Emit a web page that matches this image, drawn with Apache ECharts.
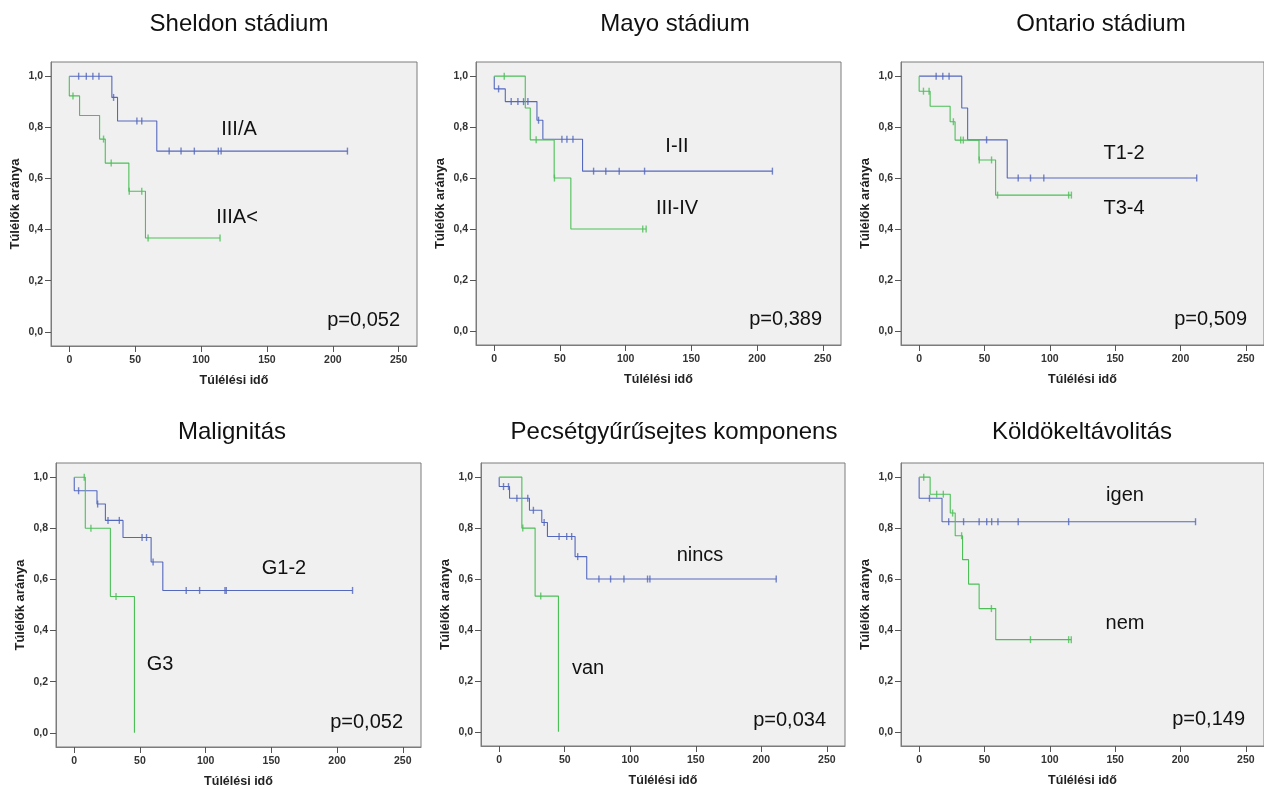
<!DOCTYPE html>
<html>
<head>
<meta charset="utf-8">
<script src="https://cdn.jsdelivr.net/npm/echarts@6/dist/echarts.min.js"></script>
<style>
  html, body { margin: 0; padding: 0; background: #fff; }
  #chart { width: 1264px; height: 789px; }
</style>
</head>
<body>
<div id="chart"></div>
<script>
// tick labels
const xTicks = [0, 50, 100, 150, 200, 250];
const yTicks = [0, 0.2, 0.4, 0.6, 0.8, 1.0];

const panelTitles = ["Sheldon stádium", "Mayo stádium", "Ontario stádium", "Malignitás", "Pecsétgyűrűsejtes komponens", "Köldökeltávolitás"];
const pValues = ["p=0,052", "p=0,389", "p=0,509", "p=0,052", "p=0,034", "p=0,149"];
const blueLabels = ["III/A", "I-II", "T1-2", "G1-2", "nincs", "igen"];
const greenLabels = ["IIIA<", "III-IV", "T3-4", "G3", "van", "nem"];

// Sheldon stádium
const sheldonBlueEvents = [32.3, 36.6, 66.4];
const sheldonBlueSurv = [0.917, 0.825, 0.707];
const sheldonBlueCensored = [7.1, 12.9, 17.9, 22.5, 33.6, 51.3, 55, 75.8, 84.8, 94.9, 113.1, 115.2, 211.1];
const sheldonGreenEvents = [0, 7.8, 23, 27.3, 45.2, 57.8];
const sheldonGreenSurv = [0.923, 0.846, 0.754, 0.66, 0.55, 0.367];
const sheldonGreenCensored = [2.8, 26, 31.8, 45.5, 55, 59.8, 114.4];

// Mayo stádium
const mayoBlueEvents = [0, 8.4, 32.5, 37, 67.2];
const mayoBlueSurv = [0.95, 0.9, 0.827, 0.752, 0.627];
const mayoBlueCensored = [3.3, 12.9, 18, 22.3, 25.6, 33.7, 51.5, 55.3, 59.9, 75.6, 84.9, 95.1, 114.4, 211.7];
const mayoGreenEvents = [23.6, 27.4, 45.6, 58.3];
const mayoGreenSurv = [0.875, 0.75, 0.6, 0.4];
const mayoGreenCensored = [7.6, 31.9, 45.8, 113, 115.6];

// Ontario stádium
const ontarioBlueEvents = [32.6, 37.1, 67.4];
const ontarioBlueSurv = [0.875, 0.75, 0.6];
const ontarioBlueCensored = [13, 18.1, 22.9, 51.6, 75.8, 85.2, 95.4, 212.4];
const ontarioGreenEvents = [0, 8.4, 23.7, 27.5, 45.8, 58.5];
const ontarioGreenSurv = [0.941, 0.882, 0.821, 0.749, 0.671, 0.533];
const ontarioGreenCensored = [3.3, 7.6, 26.2, 31.8, 33.8, 46, 55.4, 60, 114.4, 116.5];

// Malignitás
const malignBlueEvents = [0, 17.3, 23.7, 37.1, 58.5, 67.4];
const malignBlueSurv = [0.947, 0.895, 0.831, 0.764, 0.668, 0.557];
const malignBlueCensored = [3.3, 17.8, 25.7, 34.3, 51.6, 55, 60, 85.2, 95.4, 114.7, 115.7, 211.8];
const malignGreenEvents = [8.4, 27.5, 45.8];
const malignGreenSurv = [0.8, 0.533, 0];
const malignGreenCensored = [7.6, 12.7, 31.8];

// Pecsétgyűrűsejtes komponens
const pecsetBlueEvents = [0, 7.9, 23.1, 32.5, 36.8, 57.9, 66.8];
const pecsetBlueSurv = [0.963, 0.917, 0.87, 0.822, 0.767, 0.688, 0.6];
const pecsetBlueCensored = [3.3, 7.1, 13.5, 21.8, 26.1, 34.3, 45.7, 51.5, 55.3, 59.9, 76.1, 85, 95.2, 113.2, 115, 211.4];
const pecsetGreenEvents = [17.3, 27.4, 45.2];
const pecsetGreenSurv = [0.8, 0.533, 0];
const pecsetGreenCensored = [18, 31.7];

// Köldökeltávolitás
const koldokBlueEvents = [0, 17.5];
const koldokBlueSurv = [0.917, 0.825];
const koldokBlueCensored = [7.9, 22.6, 34, 45.9, 51.7, 55.5, 60.3, 75.8, 114.4, 211.5];
const koldokGreenEvents = [8.4, 23.8, 27.6, 33.2, 37.8, 45.9, 58.6];
const koldokGreenSurv = [0.933, 0.859, 0.77, 0.676, 0.58, 0.484, 0.362];
const koldokGreenCensored = [3.5, 13.4, 18.5, 25.6, 32.5, 55.3, 85.2, 114.4, 116.4];

const curves = [
  [[sheldonBlueEvents, sheldonBlueSurv, sheldonBlueCensored], [sheldonGreenEvents, sheldonGreenSurv, sheldonGreenCensored]],
  [[mayoBlueEvents, mayoBlueSurv, mayoBlueCensored], [mayoGreenEvents, mayoGreenSurv, mayoGreenCensored]],
  [[ontarioBlueEvents, ontarioBlueSurv, ontarioBlueCensored], [ontarioGreenEvents, ontarioGreenSurv, ontarioGreenCensored]],
  [[malignBlueEvents, malignBlueSurv, malignBlueCensored], [malignGreenEvents, malignGreenSurv, malignGreenCensored]],
  [[pecsetBlueEvents, pecsetBlueSurv, pecsetBlueCensored], [pecsetGreenEvents, pecsetGreenSurv, pecsetGreenCensored]],
  [[koldokBlueEvents, koldokBlueSurv, koldokBlueCensored], [koldokGreenEvents, koldokGreenSurv, koldokGreenCensored]],
];

// layout (pixels)
const grids = [
  { left: 51, top: 62, width: 366, height: 284 },
  { left: 476, top: 62, width: 365, height: 283 },
  { left: 901, top: 62, width: 364, height: 283 },
  { left: 56, top: 463, width: 365, height: 284 },
  { left: 481, top: 463, width: 364, height: 283 },
  { left: 901, top: 463, width: 364, height: 283 },
];
const titlePos = [[239, 24], [675, 24], [1101, 24], [232, 432], [674, 432], [1082, 432]];
const bluePos = [[239, 129], [677, 146], [1124, 153], [284, 568], [700, 555], [1125, 495]];
const greenPos = [[237, 217], [677, 208], [1124, 208], [160, 664], [588, 668], [1125, 623]];
const pPos = [[400, 320], [822, 319], [1247, 319], [403, 722], [826, 720], [1245, 719]];

const BLUE = "#5468bd";
const GREEN = "#4cbf57";
const FONT = "'Liberation Sans', Arial, sans-serif";

function stepData(events, surv, censored) {
  const end = Math.max(...events, ...censored);
  const pts = [[0, 1]];
  events.forEach((t, i) => pts.push([t, surv[i]]));
  pts.push([end, surv[surv.length - 1]]);
  return pts;
}

function survAt(events, surv, t) {
  let s = 1;
  events.forEach((e, i) => {
    if (e <= t) s = surv[i];
  });
  return s;
}

const xPad = 250 / 18;
const yPad = 1 / 18;

const option = {
  animation: false,
  backgroundColor: "#fff",
  textStyle: { fontFamily: FONT },
  grid: [],
  xAxis: [],
  yAxis: [],
  series: [],
  graphic: [],
};

grids.forEach((g, i) => {
  option.grid.push(Object.assign({
    show: true,
    backgroundColor: "#f0f0f0",
    borderColor: "#7c7c7c",
    borderWidth: 1,
  }, g));
  option.xAxis.push({
    gridIndex: i,
    type: "value",
    min: -xPad,
    max: 250 + xPad,
    name: "Túlélési idő",
    nameLocation: "middle",
    nameGap: 28,
    nameTextStyle: { fontSize: 12.5, fontWeight: "bold", color: "#222", fontFamily: FONT },
    axisLine: { show: true, onZero: false, lineStyle: { color: "#7c7c7c" } },
    axisTick: { show: true, length: 6, customValues: xTicks, lineStyle: { color: "#555" } },
    axisLabel: { customValues: xTicks, margin: 9, fontSize: 10.5, fontWeight: "bold", color: "#333", fontFamily: FONT },
    splitLine: { show: false },
  });
  option.yAxis.push({
    gridIndex: i,
    type: "value",
    min: -yPad,
    max: 1 + yPad,
    name: "Túlélők aránya",
    nameLocation: "middle",
    nameGap: 29,
    nameTextStyle: { fontSize: 13, fontWeight: "bold", color: "#222", fontFamily: FONT },
    axisLine: { show: true, onZero: false, lineStyle: { color: "#7c7c7c" } },
    axisTick: { show: true, length: 6, customValues: yTicks, lineStyle: { color: "#555" } },
    axisLabel: {
      customValues: yTicks,
      margin: 8,
      fontSize: 10.5,
      fontWeight: "bold",
      color: "#333",
      fontFamily: FONT,
      formatter: (v) => v.toFixed(1).replace(".", ","),
    },
    splitLine: { show: false },
  });

  curves[i].forEach((c, k) => {
    const [events, surv, censored] = c;
    const color = k === 0 ? BLUE : GREEN;
    option.series.push({
      type: "line",
      xAxisIndex: i,
      yAxisIndex: i,
      step: "end",
      symbol: "none",
      lineStyle: { color: color, width: 1.1 },
      data: stepData(events, surv, censored),
      z: 2,
    });
    option.series.push({
      type: "scatter",
      xAxisIndex: i,
      yAxisIndex: i,
      symbol: "rect",
      symbolSize: [1.4, 7],
      itemStyle: { color: color },
      data: censored.map((t) => [t, survAt(events, surv, t)]),
      z: 3,
    });
  });

  const txt = (pos, text, size, align) => ({
    type: "text",
    x: pos[0],
    y: pos[1],
    style: {
      text: text,
      font: size + "px " + FONT,
      fill: "#111",
      textAlign: align || "center",
      textVerticalAlign: "middle",
    },
    z: 10,
  });
  option.graphic.push(txt(titlePos[i], panelTitles[i], 24));
  option.graphic.push(txt(bluePos[i], blueLabels[i], 20));
  option.graphic.push(txt(greenPos[i], greenLabels[i], 20));
  option.graphic.push(txt(pPos[i], pValues[i], 20, "right"));
});

const chart = echarts.init(document.getElementById("chart"));
chart.setOption(option);
window.addEventListener("resize", () => chart.resize());
</script>
</body>
</html>
